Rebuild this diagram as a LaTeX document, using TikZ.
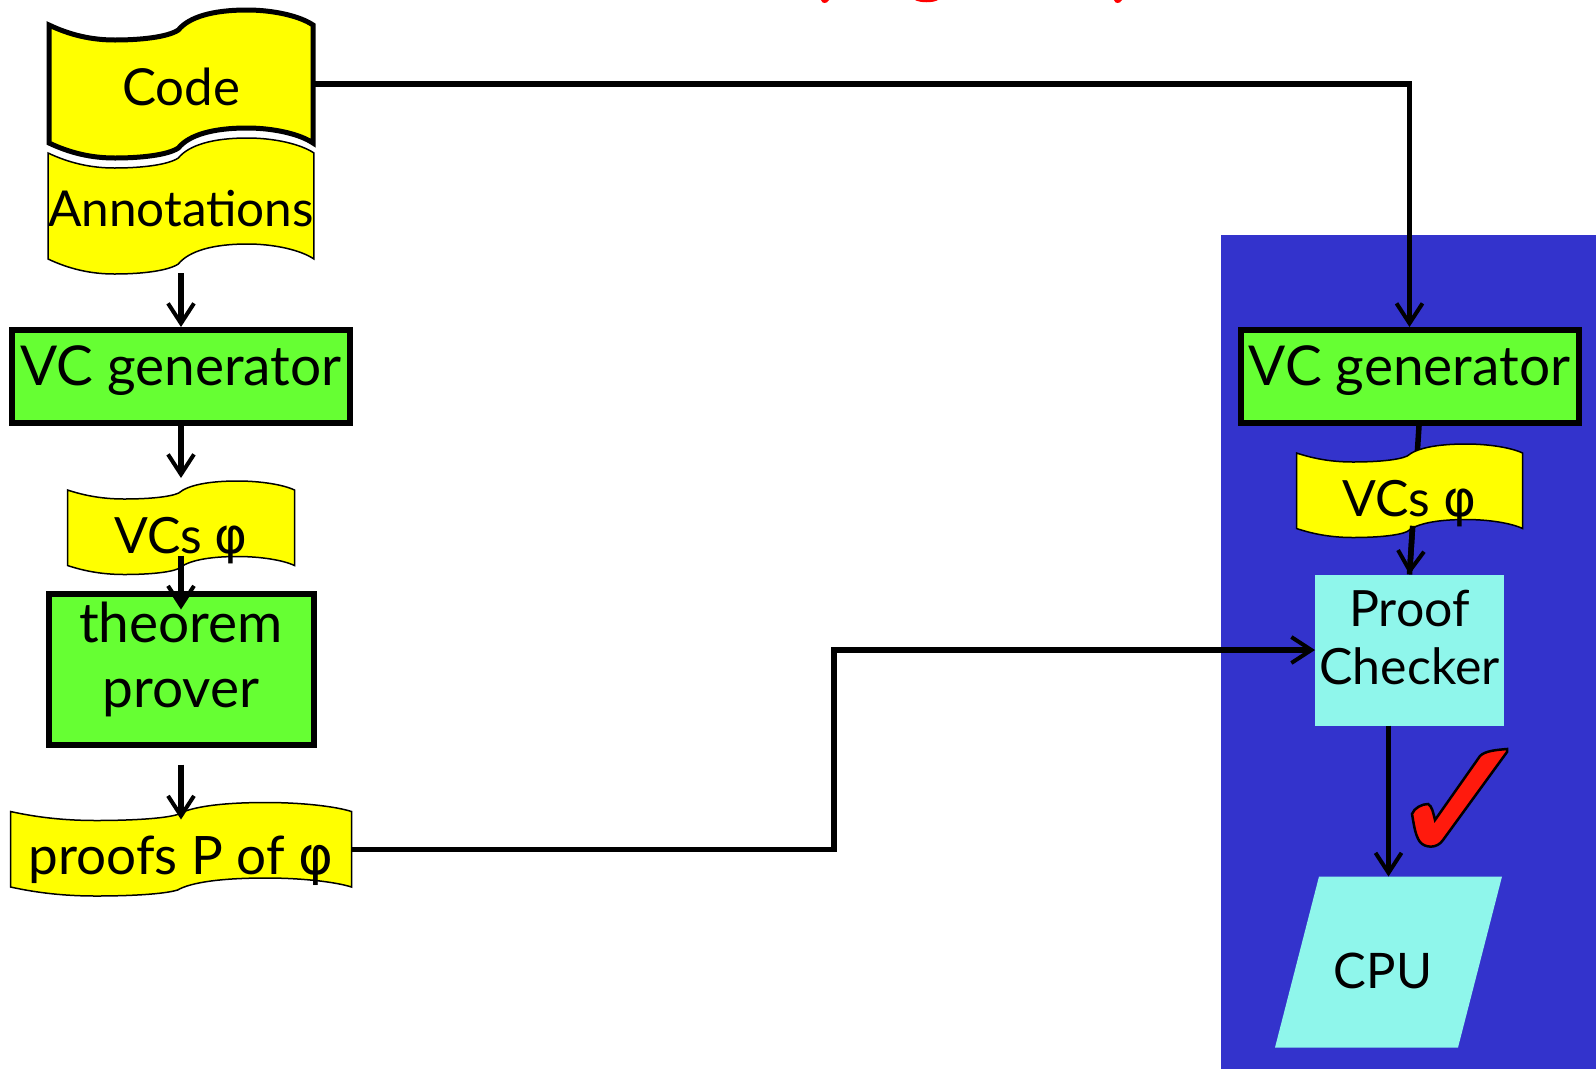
\documentclass[tikz,border=0pt]{standalone}
\usepackage{fontspec}
\setmainfont{Lato}
\newfontfamily\greekfont{DejaVu Sans}
\usetikzlibrary{arrows.meta,positioning}
\definecolor{ribbon}{HTML}{FFFF00}
\definecolor{tool}{HTML}{66FF33}
\definecolor{panel}{HTML}{3333CC}
\definecolor{aqua}{HTML}{8FF6EB}
\definecolor{tickred}{HTML}{FF1A0D}
\pgfdeclarelayer{back}
\pgfdeclarelayer{ribbons}
\pgfsetlayers{back,ribbons,main}
\newcommand{\phisign}{{\greekfont φ}}
\newcommand{\ribbonshape}[3][]{%
  \begin{pgfonlayer}{ribbons}
    \pgfpointdiff{\pgfpointanchor{#2}{north west}}{\pgfpointanchor{#2}{south east}}%
    \pgfgetlastxy{\ribw}{\ribh}%
    \pgfmathsetmacro{\ribx}{\ribw/100}%
    \pgfmathsetmacro{\riby}{-#3/15}%
    \pgfmathsetmacro{\ribd}{\ribh/\riby}%
    \draw[line width=1.5pt, fill=ribbon, #1, shift={(#2.north west)}, x=\ribx pt, y=\riby pt]
      (0,0) .. controls (8,10) and (16,15) .. (25,15) .. controls (35,15) and (45,12) .. (49,5)
      .. controls (53,-8) and (62,-15) .. (75,-15) .. controls (85,-15) and (95,-9) .. (100,0)
      -- (100,\ribd) .. controls (95,\ribd-9) and (85,\ribd-15) .. (75,\ribd-15)
      .. controls (62,\ribd-15) and (53,\ribd-8) .. (49,\ribd+5)
      .. controls (45,\ribd+12) and (35,\ribd+15) .. (25,\ribd+15)
      .. controls (16,\ribd+15) and (8,\ribd+10) .. (0,\ribd) -- cycle;
  \end{pgfonlayer}}

\begin{document}
\begin{tikzpicture}[
    x=1pt, y=-1pt,
    label text/.style={font=\fontsize{55}{65}\selectfont},
    flag/.style={label text, rectangle, inner sep=0pt, outer sep=0pt, align=center},
    smallflag/.style={flag, text height=63pt, text depth=12.5pt, font=\fontsize{50}{60}\selectfont},
    toolbox/.style={label text, rectangle, draw=black, line width=6pt, fill=tool, inner sep=0pt, align=center},
    checkbox/.style={rectangle, fill=aqua, inner sep=0pt, outer sep=0pt, align=center, font=\fontsize{50}{58}\selectfont},
    arrow/.style={-{Straight Barb[length=20pt,width=26pt,line width=4pt]}, line width=5.5pt, color=black}
]
\useasboundingbox (0,0) rectangle (1596,1069);
\begin{pgfonlayer}{back}
\fill[panel] (1221,235) rectangle (1596,1069);
\end{pgfonlayer}
\fill[red] (821,0) .. controls (822,4) and (827,4) .. (829,0) -- cycle;
\fill[red] (915,0) .. controls (920,3) and (933,3) .. (938,0) -- cycle;
\fill[red] (1114,0) .. controls (1115,4) and (1120,4) .. (1122,0) -- cycle;

\node[flag, minimum width=264pt, text height=80pt, text depth=38pt, font=\fontsize{51}{60}\selectfont] (code) at (181,84) {Code};
\node[flag, below=10pt of code, minimum width=264pt, text height=73pt, text depth=33pt, font=\fontsize{49.5}{60}\selectfont] (annot) {Annotations};
\node[toolbox, below=68pt of annot, minimum width=338pt, text height=55.5pt, text depth=37.5pt] (vcgen) {VC generator};
\node[smallflag, below=64pt of vcgen, minimum width=227pt] (vcs) {VCs \phisign};
\node[toolbox, below=25pt of vcs, minimum width=265pt, text height=114pt, text depth=37pt] (prover) {theorem\\prover};
\node[smallflag, below=64pt of prover, minimum width=341pt, font=\fontsize{53}{60}\selectfont] (proofs) {proofs P of \phisign};
\node[toolbox, right=884.5pt of vcgen, minimum width=338pt, text height=55.5pt, text depth=37.5pt] (vcgenr) {VC generator};
\node[smallflag, below=27pt of vcgenr, minimum width=226pt] (vcsr) {VCs \phisign};
\node[checkbox, below=46pt of vcsr, minimum width=189pt, text height=110pt, text depth=41pt] (checker) {Proof\\Checker};
\node[below=151pt of checker, xshift=-21pt, rectangle, minimum width=227pt, inner sep=0pt, outer sep=0pt, text height=112pt, text depth=59pt, font=\fontsize{49}{60}\selectfont] (cpu) {\hspace*{-11pt}CPU};

\begin{pgfonlayer}{ribbons}
\fill[aqua] ([xshift=44pt]cpu.north west) -- (cpu.north east) -- ([xshift=-44pt]cpu.south east) -- (cpu.south west) -- cycle;
\end{pgfonlayer}
\ribbonshape[line width=1.5pt]{annot}{15}
\ribbonshape[line width=5pt]{code}{15}
\ribbonshape{vcs}{9}
\ribbonshape{vcsr}{9}
\ribbonshape{proofs}{9}

\fill[tickred, draw=black, line width=2.5pt] (1507,749) .. controls (1495,750) and (1485,751) .. (1480,756)
  -- (1435,820) .. controls (1433,812) and (1432,806) .. (1428,804) .. controls (1422,804) and (1414,808) .. (1412,814)
  .. controls (1414,825) and (1415,835) .. (1420,842) .. controls (1425,848) and (1437,849) .. (1443,840) -- (1507,752) -- cycle;

\begin{pgfonlayer}{back}
\draw[line width=5.5pt] ([xshift=9.5pt]vcgenr.south) -- (checker.north);
\end{pgfonlayer}
\draw[arrow, shorten <=14pt] (annot.south) -- (vcgen.north);
\draw[arrow, shorten >=12pt] (vcgen.south) -- (vcs.north);
\draw[arrow, shorten <=-10pt, shorten >=-19pt] (vcs.south) -- (prover.north);
\draw[arrow, shorten <=17pt, shorten >=-8pt] (prover.south) -- (proofs.north);
\draw[arrow] (code.east) -| (vcgenr.north);
\draw[arrow, shorten <=100pt] ([xshift=9.5pt]vcgenr.south) -- (checker.north);
\coordinate (elbow) at (834,0);
\draw[arrow] (proofs.east) -| (elbow |- checker.west) -- (checker.west);
\draw[arrow] ([xshift=-21pt]checker.south) -- ([xshift=-21pt]checker.south |- cpu.north);
\end{tikzpicture}
\end{document}
